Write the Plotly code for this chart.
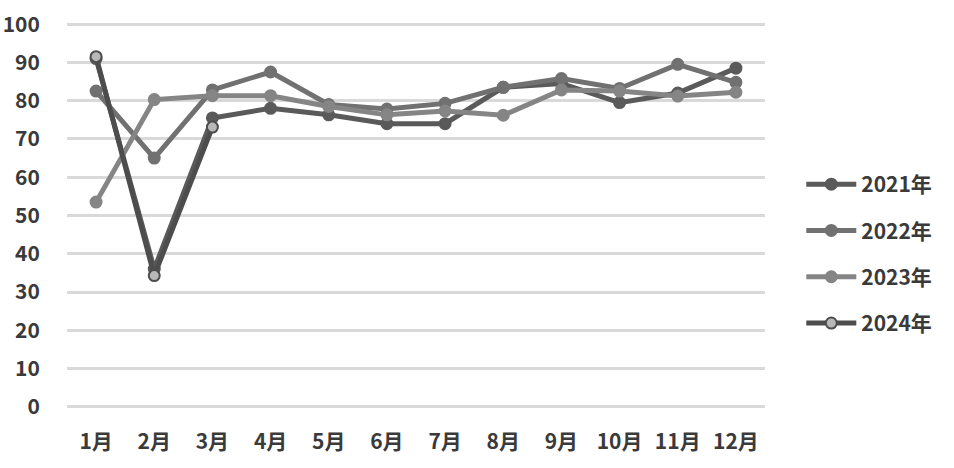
import plotly.graph_objects as go

months = ["1月", "2月", "3月", "4月", "5月", "6月", "7月", "8月", "9月", "10月", "11月", "12月"]
y_ticks = [0, 10, 20, 30, 40, 50, 60, 70, 80, 90, 100]

s2021 = [91.0, 36.0, 75.5, 78.0, 76.3, 74.0, 74.0, 83.5, 84.5, 79.5, 82.0, 88.5]
s2022 = [82.5, 65.0, 82.8, 87.5, 79.0, 77.8, 79.3, 83.5, 85.8, 83.2, 89.5, 84.8]
s2023 = [53.5, 80.3, 81.3, 81.3, 78.5, 76.3, 77.3, 76.2, 82.8, 82.5, 81.2, 82.2]
s2024 = [91.5, 34.3, 73.1]

series = [
    ("2021年", s2021, "#5a5a5a", "#5a5a5a", "#5a5a5a"),
    ("2022年", s2022, "#717171", "#717171", "#717171"),
    ("2023年", s2023, "#858585", "#858585", "#858585"),
    ("2024年", s2024, "#4d4d4d", "#b8b8b8", "#4d4d4d"),
]

fig = go.Figure()
for i, (name, vals, lc, mfill, mline) in enumerate(series):
    fig.add_trace(go.Scatter(
        x=months[:len(vals)], y=vals, name=name, mode="lines+markers",
        line=dict(color=lc, width=5),
        marker=dict(size=11, color=mfill, line=dict(color=mline, width=2)),
        legendgroup=name,
    ))

font_family = "Noto Sans CJK SC, Noto Sans, sans-serif"
tf = dict(size=21, color="#3a3a3a", weight="bold", family=font_family)
fig.update_layout(
    width=954, height=468,
    margin=dict(l=67, r=189, t=23, b=60, autoexpand=False),
    paper_bgcolor="white", plot_bgcolor="white",
    font=tf,
    showlegend=True,
    legend=dict(x=1.052, y=0.40, xanchor="left", yanchor="middle",
                font=tf, tracegroupgap=16, itemwidth=50, bgcolor="rgba(0,0,0,0)"),
    xaxis=dict(type="category", categoryorder="array", categoryarray=months,
               showgrid=False, showline=False, zeroline=False, automargin=False,
               ticks="outside", ticklen=15, tickcolor="rgba(0,0,0,0)",
               tickfont=tf, range=[-0.5, 11.5]),
    yaxis=dict(range=[-0.3, 100.3], tickvals=y_ticks, ticktext=[str(v) for v in y_ticks],
               showgrid=True, gridcolor="#d9d9d9", gridwidth=2.5, automargin=False,
               zeroline=False, showline=False, ticklabeloverflow="allow",
               ticks="outside", ticklen=22, tickcolor="rgba(0,0,0,0)",
               tickfont=tf),
)

fig.write_html("out.html", config={"displayModeBar": False},
               post_script="document.body.style.margin='0';document.body.style.overflow='hidden';")
